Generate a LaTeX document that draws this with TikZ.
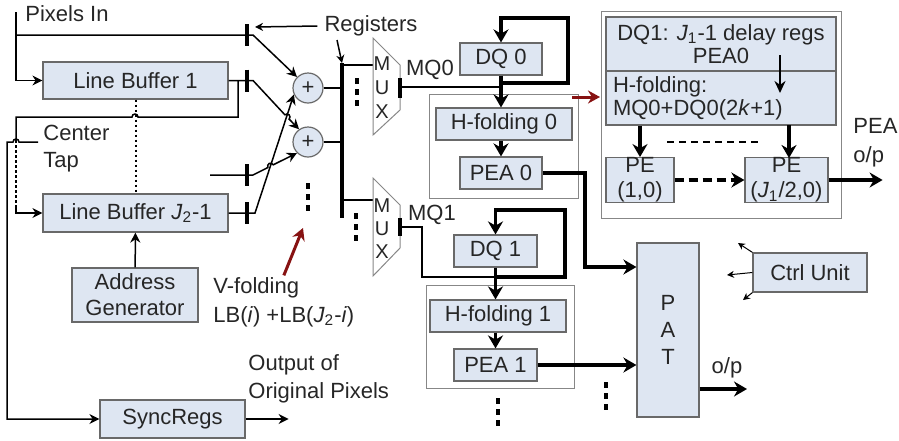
\documentclass[tikz,border=0pt]{standalone}
\usepackage{fontspec}
\setmainfont{Liberation Sans}
\usetikzlibrary{arrows.meta}
\definecolor{boksfarge}{RGB}{222,230,242}
\definecolor{rammefarge}{RGB}{105,105,105}
\definecolor{morkrod}{RGB}{135,18,18}

\begin{document}
\begin{tikzpicture}[x=0.5pt, y=-0.5pt, >={Stealth[length=5pt,width=5pt]},
    every node/.style={font=\fontsize{11}{13}\selectfont, text=black!85},
    boks/.style={draw=rammefarge, line width=0.6pt, fill=boksfarge, inner sep=0pt, align=center},
    ramme/.style={draw=rammefarge!80, line width=0.5pt, fill=white, inner sep=0pt},
    adder/.style={circle, draw=rammefarge, line width=0.6pt, fill=boksfarge, minimum size=15pt, inner sep=0pt},
    tynn/.style={line width=0.75pt},
    prikket/.style={line width=1pt, dash pattern=on 1.3pt off 1.2pt},
    tykk/.style={line width=1.6pt, -{Stealth[length=6.5pt,width=7.5pt]}},
    reg/.style={line width=1.8pt},
    prikker/.style={line width=1.6pt, dash pattern=on 3pt off 2.5pt},
    rodpil/.style={line width=1.5pt, draw=morkrod, -{Stealth[length=6pt,width=6.5pt]}},
    lbl/.style={inner sep=0pt, align=left}]
    \useasboundingbox (0,0) rectangle (899,440);

    % Linjebuffere
    \node[boks, minimum width=92.5pt, minimum height=18.5pt] (lb1) at (135.5,80.5) {Line Buffer 1};
    \node[boks, minimum width=92.5pt, minimum height=19pt] (lbj) at (135.5,213) {Line Buffer \textit{J}\textsubscript{2}-1};
    \node[boks, minimum width=63pt, minimum height=27pt] (addr) at (135,295) {Address\\Generator};
    \node[boks, minimum width=72.5pt, minimum height=19pt] (sync) at (172.5,419) {SyncRegs};
    \draw[tynn, ->] (addr) -- (lbj);
    \draw[prikket] (lb1) -- (lbj);

    \node[lbl, anchor=west] (pintxt) at (25,14) {Pixels In};
    \node[lbl, anchor=west] (ct) at (43,148.5) {Center\\[0.5pt]Tap};
    \node[lbl, anchor=west, font=\fontsize{11}{14}\selectfont] (orig) at (248,379) {Output of\\Original Pixels};
    \node[lbl, anchor=west, font=\fontsize{11}{14.5}\selectfont] (vfold) at (213,302.5)
      {V-folding\\LB(\textit{i}) +LB(\textit{J}\textsubscript{2}-\textit{i})};
    \node (regtxt) at (371,26) {Registers};

    % Registre
    \coordinate (pin) at (16,12);
    \coordinate (pinsplit) at (16,35);
    \coordinate (r1) at (247,35);
    \coordinate (r2) at (247,80.5);
    \coordinate (r3) at (247,175);
    \coordinate (r4) at (247,213);
    \coordinate (in3) at (210,175);
    \coordinate (lb1split) at (238,80.5);
    \coordinate (ctin) at (38,142);
    \coordinate (ctv1) at (16,140);
    \coordinate (ctv2) at (16,206);

    \node[adder] (add1) at (308,88) {+};
    \node[adder] (add2) at (308,142) {+};

    \draw[tynn, ->] (pin) |- (lb1.west);
    \draw[tynn, ->] (pinsplit) -- (r1) -- ++(6,0) -- (add1.135);
    \draw[tynn, ->] (lbj.east) -- (r4) -- ++(8,0) -- (add1.205);
    \draw[tynn, ->] (lb1.east) -- (r2) -- ++(6,0) -- (284.9,114.8)
      arc[start angle=134.2, end angle=-45.8, radius=1.5pt] -- (add2.125);
    \draw[tynn, ->] (in3) -- (r3) -- ++(6,0) -- (267.9,167.5)
      arc[start angle=206.8, end angle=26.8, radius=1.5pt] -- (add2.225);
    \foreach \r in {r1,r2,r3,r4}
      \draw[reg] (\r) ++(0,-11) -- ++(0,22);

    % Senterttapp
    \draw[tynn] (lb1split) |- (138,117) arc[start angle=0, end angle=180, radius=1.5pt] -- (16,117) -- (ctv1);
    \draw[prikket] (ctv1) -- (ctv2);
    \draw[tynn, ->] (ctv2) |- (lbj.west);
    \draw[tynn, ->] (ctin) -- (19,142) arc[start angle=0, end angle=180, radius=1.5pt] -- (7,142) |- (sync.west);
    \draw[line width=1pt, ->] (sync.east) -- ++(43,0);

    % Buss og MUX
    \coordinate (bustop) at (342,63);
    \coordinate (busbot) at (342,218);
    \coordinate (m0in) at (373,65);
    \coordinate (m1in) at (373,200);
    \coordinate (m0out) at (400,87);
    \coordinate (m1out) at (400,227);
    \draw[reg] (bustop) -- (busbot);
    \draw[tynn] (add1.east) -- (add1.east -| bustop);
    \draw[tynn] (add2.east) -- (add2.east -| bustop);
    \draw[tynn] (m0in -| bustop) -- (m0in);
    \draw[tynn] (m1in -| bustop) -- (m1in);
    \draw[ramme] (373,38) -- (400,65) -- (400,110) -- (373,135) -- cycle;
    \draw[ramme] (373,178) -- (400,205) -- (400,248) -- (373,276) -- cycle;
    \node[align=center, inner sep=0pt, font=\fontsize{10}{12}\selectfont] (mux0) at (382,88) {M\\U\\X};
    \node[align=center, inner sep=0pt, font=\fontsize{10}{11.5}\selectfont] (mux1) at (382,229) {M\\U\\X};
    \draw[reg] (400,78) -- (400,98);
    \draw[reg] (400,218) -- (400,236);
    \node (mq0) at (430,70) {MQ0};
    \node (mq1) at (432,215) {MQ1};

    \draw[tynn, ->, >={Stealth[length=4pt,width=4pt]}] (regtxt.west) -- (255,27);
    \draw[tynn, ->, >={Stealth[length=4pt,width=4pt]}] (337,40) -- (bustop);

    \draw[prikker] (357,78) -- (357,108);
    \draw[prikker] (356,213) -- (356,243);
    \draw[prikker] (308,183) -- (308,213);
    \draw[rodpil] ([yshift=1pt]vfold.north) -- (303,228);

    % Gren 0
    \node[ramme, minimum width=74.5pt, minimum height=52pt] (fr0) at (503.5,146) {};
    \node[boks, minimum width=41pt, minimum height=16pt] (dq0) at (501,59) {DQ 0};
    \node[boks, minimum width=68pt, minimum height=16pt] (hf0) at (504,124) {H-folding 0};
    \node[boks, minimum width=41pt, minimum height=16pt] (pea0) at (501,173) {PEA 0};
    \coordinate (j0) at (501,83);
    \coordinate (l0hj) at (568,18);
    \draw[tynn] (m0out) -- (m0out -| dq0.south);
    \draw[tykk] (dq0.south) -- (dq0.south |- hf0.north);
    \draw[tykk] (j0) -| (l0hj) -| (dq0.north);
    \draw[tykk] (pea0.north |- hf0.south) -- (pea0.north);

    % Gren 1
    \node[ramme, minimum width=74pt, minimum height=51.5pt] (fr1) at (500,336.5) {};
    \node[boks, minimum width=41.5pt, minimum height=16pt] (dq1) at (495.5,251) {DQ 1};
    \node[boks, minimum width=68pt, minimum height=16pt] (hf1) at (498,316) {H-folding 1};
    \node[boks, minimum width=41.5pt, minimum height=16pt] (pea1) at (495.5,365) {PEA 1};
    \coordinate (j1) at (495.5,277);
    \coordinate (l1hj) at (565,210);
    \coordinate (m1bend) at (422,227);
    \draw[tynn] (m1out) -- (m1bend) |- (j1);
    \draw[tykk] (dq1.south) -- (dq1.south |- hf1.north);
    \draw[tykk] (j1) -| (l1hj) -| (dq1.north);
    \draw[tykk] (pea1.north |- hf1.south) -- (pea1.north);
    \draw[prikker] (498,398) -- (498,428);

    % PAT og styring
    \node[boks, minimum width=31pt, minimum height=87pt, font=\fontsize{11}{13.5}\selectfont] (pat) at (668,330) {P\\A\\T};
    \node[boks, minimum width=57pt, minimum height=19.5pt] (ctrl) at (810,272.5) {Ctrl Unit};
    \coordinate (p0hj) at (585,267);
    \coordinate (patut) at (747,389);
    \draw[tykk] (pea0.east) -| (p0hj) -- (p0hj -| pat.west);
    \draw[tykk] (pea1.east) -- (pea1.east -| pat.west);
    \draw[tykk] (patut -| pat.east) -- (patut);
    \node (patop) at (727,368) {o/p};
    \draw[prikker] (606,382) -- (606,412);
    \begin{scope}[line width=0.5pt, ->, >={Stealth[length=3.5pt,width=3.5pt]}]
      \draw (ctrl.north west) -- (738,243);
      \draw (ctrl.west) -- (727,275);
      \draw (ctrl.south west) -- (743,300);
    \end{scope}

    % PE-matrise
    \node[ramme, minimum width=120pt, minimum height=103.5pt] (pefr) at (721,114.5) {};
    \node[boks, minimum width=115pt, minimum height=27pt, font=\fontsize{11}{11.5}\selectfont] (dqreg) at (721,44)
      {DQ1: \textit{J}\textsubscript{1}-1 delay regs\\PEA0};
    \node[boks, minimum width=115pt, minimum height=27pt, text width=108pt, align=left, inner xsep=3.5pt,
      font=\fontsize{11}{11.5}\selectfont] (hfold) at (721,98) {H-folding:\\MQ0+DQ0(2\textit{k}+1)};
    \node[boks, minimum width=34pt, minimum height=22pt, font=\fontsize{11}{12.5}\selectfont] (pe1) at (640,180) {PE\\(1,0)};
    \node[boks, minimum width=41.5pt, minimum height=22pt, font=\fontsize{11}{12.5}\selectfont] (pej) at (786.5,180)
      {PE\\(\textit{J}\textsubscript{1}/2,0)};
    \coordinate (pil1) at (780,55);
    \coordinate (pil2) at (780,93);
    \draw[line width=1pt, -{Stealth[length=6pt,width=5.5pt]}] (pil1) -- (pil2);
    \draw[tykk] (pe1.north |- hfold.south) -- (pe1.north);
    \draw[tykk] (789,125) -- (789,158);
    \draw[line width=1.4pt, dash pattern=on 3.5pt off 2.5pt] (667,142) -- (760,142);
    \draw[tykk, dash pattern=on 4.5pt off 2.5pt] (pe1.east) -- (pej.west);
    \draw[tykk] (pej.east) -- ++(54,0);
    \node[lbl, anchor=west, font=\fontsize{11}{14.5}\selectfont] (peaop) at (853,142.5) {PEA\\o/p};
    \coordinate (rod1) at (572,97);
    \coordinate (rod2) at (600,97);
    \draw[rodpil] (rod1) -- (rod2);
  \end{tikzpicture}
\end{document}
